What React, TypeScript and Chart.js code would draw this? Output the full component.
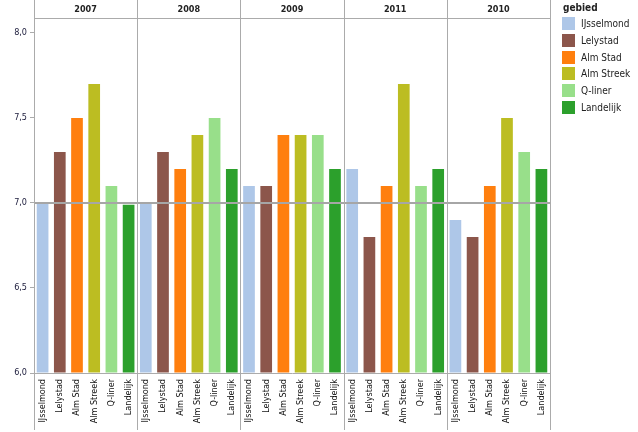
import React, { useEffect, useRef } from "react";
import { Chart, registerables } from "chart.js";

Chart.register(...registerables);

const years = ["2007", "2008", "2009", "2011", "2010"];
const areas = ["IJsselmond", "Lelystad", "Alm Stad", "Alm Streek", "Q-liner", "Landelijk"];
const areaColors = ["#aec7e8", "#8c564b", "#ff7f0e", "#bcbd22", "#98df8a", "#2ca02c"];

const values2007 = [7.0, 7.3, 7.5, 7.7, 7.1, 6.99];
const values2008 = [7.0, 7.3, 7.2, 7.4, 7.5, 7.2];
const values2009 = [7.1, 7.1, 7.4, 7.4, 7.4, 7.2];
const values2011 = [7.2, 6.8, 7.1, 7.7, 7.1, 7.2];
const values2010 = [6.9, 6.8, 7.1, 7.5, 7.3, 7.2];
const panelValues = [values2007, values2008, values2009, values2011, values2010];

const yTicks = [6.0, 6.5, 7.0, 7.5, 8.0];
const yMin = 6.0;
const yMax = 8.088;
const referenceValue = 7.0;
const legendTitle = "gebied";

const FONT = "'DejaVu Sans Condensed', 'DejaVu Sans', 'Liberation Sans', Arial, sans-serif";
const LINE = "#ababab";

const overlayPlugin = {
  id: "facetOverlay",
  afterDatasetsDraw(chart: any) {
    const { ctx, chartArea, scales } = chart;
    const xs = scales.x;
    const ys = scales.y;
    const n = areas.length;
    // reference line
    const yRef = Math.round(ys.getPixelForValue(referenceValue));
    ctx.save();
    ctx.strokeStyle = "#a6a6a6";
    ctx.lineWidth = 2;
    ctx.beginPath();
    ctx.moveTo(chartArea.left, yRef);
    ctx.lineTo(chartArea.right, yRef);
    ctx.stroke();
    ctx.restore();
  },
  afterDraw(chart: any) {
    const { ctx, chartArea, scales, height } = chart;
    const xs = scales.x;
    const n = areas.length;
    const bounds: number[] = [chartArea.left];
    for (let p = 1; p < years.length; p++) {
      const k = p * n;
      bounds.push((xs.getPixelForValue(k - 1) + xs.getPixelForValue(k)) / 2);
    }
    bounds.push(chartArea.right);
    ctx.save();
    ctx.strokeStyle = LINE;
    ctx.lineWidth = 1;
    bounds.forEach((b) => {
      const x = Math.round(b) + 0.5;
      ctx.beginPath();
      ctx.moveTo(x, 0);
      ctx.lineTo(x, height - 2);
      ctx.stroke();
    });
    const hy = chartArea.top + 0.5;
    ctx.beginPath();
    ctx.moveTo(chartArea.left, hy);
    ctx.lineTo(chartArea.right, hy);
    ctx.stroke();
    // header labels
    ctx.fillStyle = "#222";
    ctx.font = "bold 9px " + FONT;
    ctx.textAlign = "center";
    ctx.textBaseline = "middle";
    years.forEach((yr, i) => {
      ctx.fillText(yr, (bounds[i] + bounds[i + 1]) / 2, chartArea.top / 2 + 1);
    });
    // legend
    const lx = chartArea.right + 12;
    ctx.textAlign = "left";
    ctx.font = "bold 10px " + FONT;
    ctx.fillStyle = "#222";
    ctx.fillText(legendTitle, lx + 1, 8);
    ctx.font = "10px " + FONT;
    areas.forEach((a, i) => {
      const top = 17 + i * 16.8;
      ctx.fillStyle = areaColors[i];
      ctx.fillRect(lx, Math.round(top), 13, 13);
      ctx.fillStyle = "#222";
      ctx.fillText(a, lx + 19, Math.round(top) + 7);
    });
    ctx.restore();
  },
};

export default function App() {
  const ref = useRef<HTMLCanvasElement | null>(null);
  useEffect(() => {
    if (!ref.current) return;
    const labels: string[] = [];
    const data: number[] = [];
    const colors: string[] = [];
    panelValues.forEach((vals) => {
      vals.forEach((v, i) => {
        labels.push(areas[i]);
        data.push(v);
        colors.push(areaColors[i]);
      });
    });
    const chart = new Chart(ref.current, {
      type: "bar",
      data: {
        labels,
        datasets: [
          {
            data,
            backgroundColor: colors,
            base: yMin,
            barPercentage: 0.68,
            categoryPercentage: 1,
          } as any,
        ],
      },
      options: {
        animation: false,
        responsive: false,
        layout: { padding: { top: 18, right: 88, left: 0, bottom: 0 } },
        plugins: { legend: { display: false }, tooltip: { enabled: false } },
        scales: {
          x: {
            grid: { display: false, drawTicks: false },
            border: { display: true, color: LINE },
            ticks: {
              autoSkip: false,
              maxRotation: 90,
              minRotation: 90,
              padding: 6,
              color: "#111",
              font: { size: 9, family: FONT },
            },
            afterFit(scale: any) {
              scale.height = 59;
            },
          },
          y: {
            min: yMin,
            max: yMax,
            grid: { drawOnChartArea: false, drawTicks: true, tickLength: 4, color: LINE },
            border: { display: true, color: LINE },
            ticks: {
              padding: 3,
              color: "#1a1a3a",
              font: { size: 9, family: FONT },
              callback: (v: any) => Number(v).toFixed(1).replace(".", ","),
            },
            afterBuildTicks(scale: any) {
              scale.ticks = yTicks.map((v) => ({ value: v }));
            },
            afterFit(scale: any) {
              scale.width = 34;
            },
          },
        },
      },
      plugins: [overlayPlugin],
    });
    return () => chart.destroy();
  }, []);
  return (
    <div style={{ position: "fixed", left: 0, top: 0, width: 638, height: 432, background: "#fff" }}>
      <canvas ref={ref} width={638} height={432} />
    </div>
  );
}
